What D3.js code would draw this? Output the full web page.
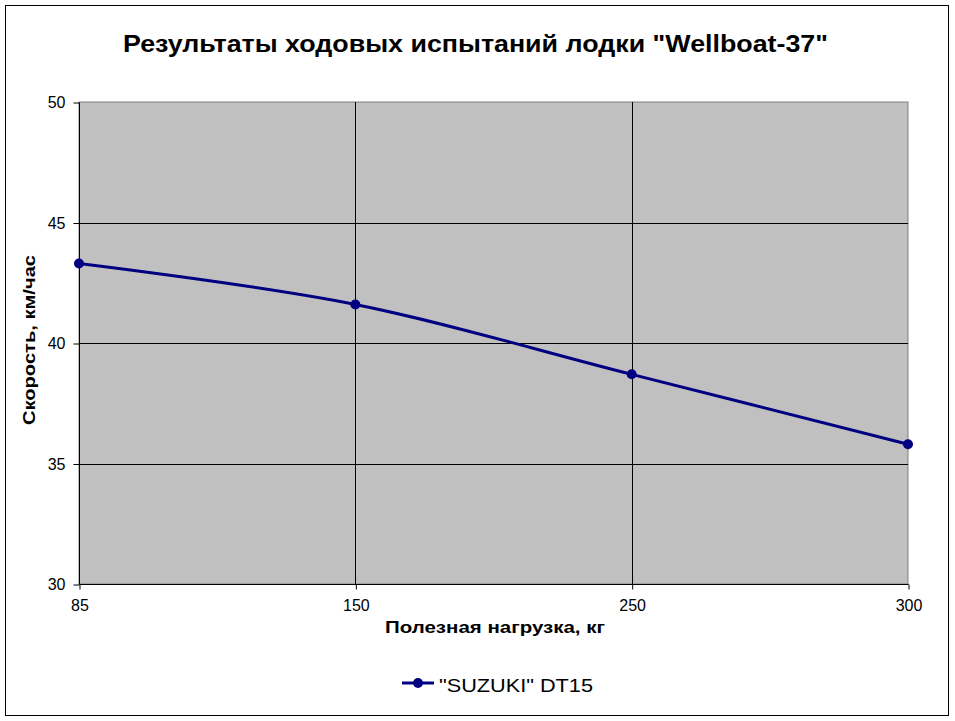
<!DOCTYPE html>
<html>
<head>
<meta charset="utf-8">
<script src="https://cdn.jsdelivr.net/npm/d3@7"></script>
<style>
  body { margin: 0; background: #fff; }
  svg { display: block; font-family: "Liberation Sans", Arial, sans-serif; }
  .tick text { font-size: 16px; fill: #000; font-family: "Liberation Sans", Arial, sans-serif; }
</style>
</head>
<body>
<div class="chart"></div>
<script>
// Data
const loads = ['85', '150', '250', '300'];
const speeds = [43.3, 41.6, 38.7, 35.8];
const yTicks = [30, 35, 40, 45, 50];
const seriesName = '"SUZUKI" DT15';

const W = 955, H = 721;
const plot = { left: 79, right: 908, top: 102, bottom: 584 };

const svg = d3.select('.chart')
  .append('svg')
  .attr('width', W)
  .attr('height', H);

// Outer frame
svg.append('rect')
  .attr('x', 5.5).attr('y', 5.5)
  .attr('width', 943).attr('height', 710)
  .attr('fill', '#fff')
  .attr('stroke', '#000');

// Scales
const x = d3.scalePoint().domain(loads).range([plot.left, plot.right]);
const y = d3.scaleLinear().domain([30, 50]).range([plot.bottom, plot.top]);

// Plot area
svg.append('rect')
  .attr('x', plot.left).attr('y', plot.top)
  .attr('width', plot.right - plot.left)
  .attr('height', plot.bottom - plot.top)
  .attr('fill', '#c0c0c0')
  .attr('stroke', '#808080');

// Gridlines
svg.append('g')
  .selectAll('line')
  .data(yTicks.filter(d => d > 30 && d < 50))
  .join('line')
  .attr('x1', plot.left).attr('x2', plot.right)
  .attr('y1', d => Math.round(y(d)) + 0.5)
  .attr('y2', d => Math.round(y(d)) + 0.5)
  .attr('stroke', '#000');

svg.append('g')
  .selectAll('line')
  .data(loads.slice(1, -1))
  .join('line')
  .attr('x1', d => Math.round(x(d)) + 0.5)
  .attr('x2', d => Math.round(x(d)) + 0.5)
  .attr('y1', plot.top).attr('y2', plot.bottom)
  .attr('stroke', '#000');

// Y axis
const yAxis = svg.append('g')
  .attr('transform', `translate(${plot.left + 0.5},0.5)`)
  .call(d3.axisLeft(y).tickValues(yTicks).tickSize(6).tickPadding(8).tickFormat(d3.format('d')));
yAxis.select('.domain').attr('d', `M0,${plot.top}V${plot.bottom}`);

// X axis
const xAxis = svg.append('g')
  .attr('transform', `translate(0.5,${plot.bottom + 0.5})`)
  .call(d3.axisBottom(x).tickSize(5).tickPadding(10));
xAxis.select('.domain').attr('d', `M${plot.left},0H${plot.right}`);

// Line
const line = d3.line()
  .x((d, i) => x(loads[i]))
  .y(d => y(d))
  .curve(d3.curveCardinal.tension(0));

svg.append('path')
  .datum(speeds)
  .attr('d', line)
  .attr('fill', 'none')
  .attr('stroke', '#000080')
  .attr('stroke-width', 3);

svg.append('g')
  .selectAll('circle')
  .data(speeds)
  .join('circle')
  .attr('cx', (d, i) => x(loads[i]))
  .attr('cy', d => y(d))
  .attr('r', 5)
  .attr('fill', '#000080');

// Titles
svg.append('text')
  .attr('x', 123).attr('y', 52)
  .attr('font-size', 24).attr('font-weight', 'bold')
  .attr('textLength', 705).attr('lengthAdjust', 'spacingAndGlyphs')
  .text('Результаты ходовых испытаний лодки "Wellboat-37"');

svg.append('text')
  .attr('x', 385).attr('y', 633)
  .attr('font-size', 17).attr('font-weight', 'bold')
  .attr('textLength', 220).attr('lengthAdjust', 'spacingAndGlyphs')
  .text('Полезная нагрузка, кг');

svg.append('text')
  .attr('transform', 'translate(35,425) rotate(-90)')
  .attr('font-size', 17).attr('font-weight', 'bold')
  .attr('textLength', 170).attr('lengthAdjust', 'spacingAndGlyphs')
  .text('Скорость, км/час');

// Legend
const legend = svg.append('g').attr('transform', 'translate(402,683)');
legend.append('line')
  .attr('x1', 0).attr('x2', 32)
  .attr('stroke', '#000080').attr('stroke-width', 3);
legend.append('circle')
  .attr('cx', 16).attr('r', 5).attr('fill', '#000080');
legend.append('text')
  .attr('x', 37).attr('y', 9)
  .attr('font-size', 18)
  .attr('textLength', 154).attr('lengthAdjust', 'spacingAndGlyphs')
  .text(seriesName);
</script>
</body>
</html>
